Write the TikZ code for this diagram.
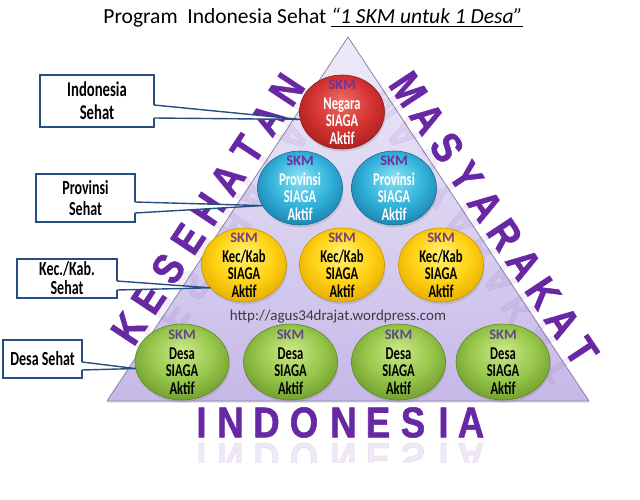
\documentclass[tikz,border=0pt]{standalone}
\usepackage{fontspec}
\setmainfont{Carlito}
\newfontfamily\condfont[FakeStretch=0.7, BoldFeatures={FakeStretch=0.7}]{Carlito}
\newfontfamily\bigfont[FakeStretch=0.85, BoldFeatures={FakeStretch=0.85, FakeBold=1.2}]{Liberation Sans}
\usetikzlibrary{shapes.geometric,calc,shadows}
\definecolor{bigpurple}{RGB}{104,40,164}
\definecolor{triT}{RGB}{238,235,248}
\definecolor{triB}{RGB}{198,184,232}
\definecolor{triborder}{RGB}{140,130,172}
\definecolor{boxblue}{RGB}{38,78,128}
\definecolor{urlgray}{RGB}{60,60,60}
\definecolor{redL}{RGB}{238,110,104}
\definecolor{redM}{RGB}{214,52,50}
\definecolor{redO}{RGB}{165,30,30}
\definecolor{redD}{RGB}{140,26,26}
\definecolor{blueL}{RGB}{140,226,244}
\definecolor{blueM}{RGB}{52,180,220}
\definecolor{blueO}{RGB}{24,124,172}
\definecolor{blueD}{RGB}{22,110,150}
\definecolor{yelL}{RGB}{255,242,120}
\definecolor{yelM}{RGB}{255,210,20}
\definecolor{yelO}{RGB}{228,168,0}
\definecolor{yelD}{RGB}{200,150,0}
\definecolor{grnL}{RGB}{204,232,138}
\definecolor{grnM}{RGB}{152,200,76}
\definecolor{grnO}{RGB}{108,152,42}
\definecolor{grnD}{RGB}{96,136,38}
\definecolor{skmA}{RGB}{112,48,160}
\definecolor{skmY}{RGB}{122,60,130}
\definecolor{skmG}{RGB}{96,74,138}
\pgfdeclareradialshading{redgloss}{\pgfpoint{0bp}{8bp}}{color(0bp)=(redL); color(17bp)=(redM); color(31bp)=(redO); color(50bp)=(redO)}
\pgfdeclareradialshading{bluegloss}{\pgfpoint{0bp}{8bp}}{color(0bp)=(blueL); color(17bp)=(blueM); color(31bp)=(blueO); color(50bp)=(blueO)}
\pgfdeclareradialshading{yelgloss}{\pgfpoint{0bp}{8bp}}{color(0bp)=(yelL); color(17bp)=(yelM); color(31bp)=(yelO); color(50bp)=(yelO)}
\pgfdeclareradialshading{grngloss}{\pgfpoint{0bp}{8bp}}{color(0bp)=(grnL); color(17bp)=(grnM); color(31bp)=(grnO); color(50bp)=(grnO)}
\newcommand\myul[1]{\setbox0=\hbox{#1}\rlap{\rule[-3.5pt]{\wd0}{1.2pt}}\box0}
\newcommand\skmtxt[1]{{\normalfont\bfseries\fontsize{14.5}{17.5}\selectfont\color{#1}SKM}}
\tikzset{
  bigletter/.style={inner sep=0pt, text=bigpurple, font=\bigfont\bfseries\fontsize{43}{43}\selectfont},
  ball/.style={ellipse, minimum width=85pt, minimum height=74pt, inner sep=0pt, line width=0.6pt,
     drop shadow={opacity=0.25, shadow xshift=1pt, shadow yshift=-2.5pt}},
  redball/.style={ball, shading=redgloss, draw=redD},
  blueball/.style={ball, shading=bluegloss, draw=blueD},
  yelball/.style={ball, shading=yelgloss, draw=yelD},
  grnball/.style={ball, minimum width=94pt, minimum height=76pt, shading=grngloss, draw=grnD},
  ctext/.style={inner sep=0pt, align=center, font=\condfont\bfseries\fontsize{18}{17.5}\selectfont},
  labelbox/.style={rectangle, draw=boxblue, fill=white, line width=1.4pt, inner sep=0pt, outer sep=0pt, align=center, text=black},
  pointer/.style={draw=boxblue, line width=1.4pt, line join=round}
}
\begin{document}
\begin{tikzpicture}[x=1pt,y=-1pt]
\fill[white] (0,0) rectangle (640,500);
\useasboundingbox (0,0) rectangle (640,500);

% title
\node[anchor=base, font=\fontsize{21.5}{24}\selectfont, inner sep=0pt] (title) at (313,24)
  {Program\ \ Indonesia Sehat \myul{\itshape “1 SKM untuk 1 Desa”}};

% triangle
\coordinate (A) at (348,37);
\coordinate (B) at (107,401);
\coordinate (C) at (589,401);
\path[draw=triborder, line width=0.8pt, top color=triT, bottom color=triB,
      drop shadow={opacity=0.25, shadow xshift=0.5pt, shadow yshift=-1.5pt}] (A) -- (B) -- (C) -- cycle;

% faint reflections of the side words
\foreach \ch [count=\i from 0] in {K,E,S,E,H,A,T,A,N}{
  \pgfmathsetmacro\s{72.5+35.8*\i}
  \node[bigletter, opacity=0.08, rotate=56.5, yscale=-1] (kesr\i) at ({113.67+0.552*\s},{405.4-0.834*\s}) {\ch};
}
\foreach \ch [count=\i from 0] in {M,A,S,Y,A,R,A,K,A,T}{
  \pgfmathsetmacro\s{76.8+34.9*\i}
  \node[bigletter, opacity=0.08, rotate=-56.5, yscale=-1] (masr\i) at ({341.33+0.552*\s},{41.42+0.834*\s}) {\ch};
}

% side words
\foreach \ch [count=\i from 0] in {K,E,S,E,H,A,T,A,N}{
  \pgfmathsetmacro\s{72.5+35.8*\i}
  \node[bigletter, rotate=56.5] (kes\i) at ({88.65+0.552*\s},{388.86-0.834*\s}) {\ch};
}
\foreach \ch [count=\i from 0] in {M,A,S,Y,A,R,A,K,A,T}{
  \pgfmathsetmacro\s{76.8+34.9*\i}
  \node[bigletter, rotate=-56.5] (mas\i) at ({365.93+0.552*\s},{25.13+0.834*\s}) {\ch};
}

% bottom word and its reflection
\foreach \ch/\x [count=\i from 0] in {I/201.5,N/230.5,D/266.5,O/304,N/343.5,E/378,S/413,I/443.5,A/471}{
  \node[bigletter] (ind\i) at (\x,422.5) {\ch};
}
\begin{scope}
  \clip (150,441) rectangle (520,462);
  \foreach \ch/\x [count=\i from 0] in {I/201.5,N/230.5,D/266.5,O/304,N/343.5,E/378,S/413,I/443.5,A/471}{
    \node[bigletter, opacity=0.1, yscale=-1] (indr\i) at (\x,458) {\ch};
  }
\end{scope}

% url
\node[font=\fontsize{15}{15}\selectfont, text=urlgray, inner sep=0pt] (url) at (338,317) {http://agus34drajat.wordpress.com};

% circles
\node[redball] (neg) at (342,112) {};
\node[ctext, text=white] (negT) at (neg.center) {\skmtxt{skmA}\\[2.5pt]Negara\\SIAGA\\Aktif};

\node[blueball] (provL) at (300,188) {};
\node[ctext, text=white] (provLT) at (provL.center) {\skmtxt{skmA}\\[2.5pt]Provinsi\\SIAGA\\Aktif};
\node[blueball] (provR) at (394,188) {};
\node[ctext, text=white] (provRT) at (provR.center) {\skmtxt{skmA}\\[2.5pt]Provinsi\\SIAGA\\Aktif};

\node[yelball] (kecL) at (244,265) {};
\node[ctext] (kecLT) at (kecL.center) {\skmtxt{skmY}\\[2.5pt]Kec/Kab\\SIAGA\\Aktif};
\node[yelball] (kecM) at (342,265) {};
\node[ctext] (kecMT) at (kecM.center) {\skmtxt{skmY}\\[2.5pt]Kec/Kab\\SIAGA\\Aktif};
\node[yelball] (kecR) at (441,265) {};
\node[ctext] (kecRT) at (kecR.center) {\skmtxt{skmY}\\[2.5pt]Kec/Kab\\SIAGA\\Aktif};

\node[grnball] (desaL) at (182,362) {};
\node[ctext] (desaLT) at (desaL.center) {\skmtxt{skmG}\\[2.5pt]Desa\\SIAGA\\Aktif};
\node[grnball] (desa2) at (290.5,362) {};
\node[ctext] (desa2T) at (desa2.center) {\skmtxt{skmG}\\[2.5pt]Desa\\SIAGA\\Aktif};
\node[grnball] (desa3) at (398.5,362) {};
\node[ctext] (desa3T) at (desa3.center) {\skmtxt{skmG}\\[2.5pt]Desa\\SIAGA\\Aktif};
\node[grnball] (desaR) at (503,362) {};
\node[ctext] (desaRT) at (desaR.center) {\skmtxt{skmG}\\[2.5pt]Desa\\SIAGA\\Aktif};

% labels with pointers
\node[labelbox, minimum width=114pt, minimum height=52pt, font=\condfont\bfseries\fontsize{21}{23}\selectfont] (l1) at (97,101) {Indonesia\\Sehat};
\fill[white] ($(l1.east)+(-1,4)$) -- (neg.190) -- ($(l1.east)+(-1,17)$) -- cycle;
\draw[pointer] ($(l1.east)+(0,4)$) -- (neg.190) -- ($(l1.east)+(0,17)$);

\node[labelbox, minimum width=99pt, minimum height=48pt, font=\condfont\bfseries\fontsize{20}{21}\selectfont] (l2) at (85.5,198) {Provinsi\\Sehat};
\fill[white] ($(l2.east)+(-1,4)$) -- (provL.205) -- ($(l2.east)+(-1,15)$) -- cycle;
\draw[pointer] ($(l2.east)+(0,4)$) -- (provL.205) -- ($(l2.east)+(0,15)$);

\node[labelbox, minimum width=100pt, minimum height=39pt, font=\condfont\bfseries\fontsize{20}{19}\selectfont] (l3) at (67,278.5) {Kec./Kab.\\Sehat};
\fill[white] ($(l3.east)+(-1,2.5)$) -- (kecL.214) -- ($(l3.east)+(-1,11.5)$) -- cycle;
\draw[pointer] ($(l3.east)+(0,2.5)$) -- (kecL.214) -- ($(l3.east)+(0,11.5)$);

\node[labelbox, minimum width=79pt, minimum height=38pt, font=\condfont\bfseries\fontsize{20}{20}\selectfont] (l4) at (42.5,359) {Desa Sehat};
\fill[white] ($(l4.east)+(-1,3)$) -- (desaL.188) -- ($(l4.east)+(-1,11)$) -- cycle;
\draw[pointer] ($(l4.east)+(0,3)$) -- (desaL.188) -- ($(l4.east)+(0,11)$);
\end{tikzpicture}
\end{document}
